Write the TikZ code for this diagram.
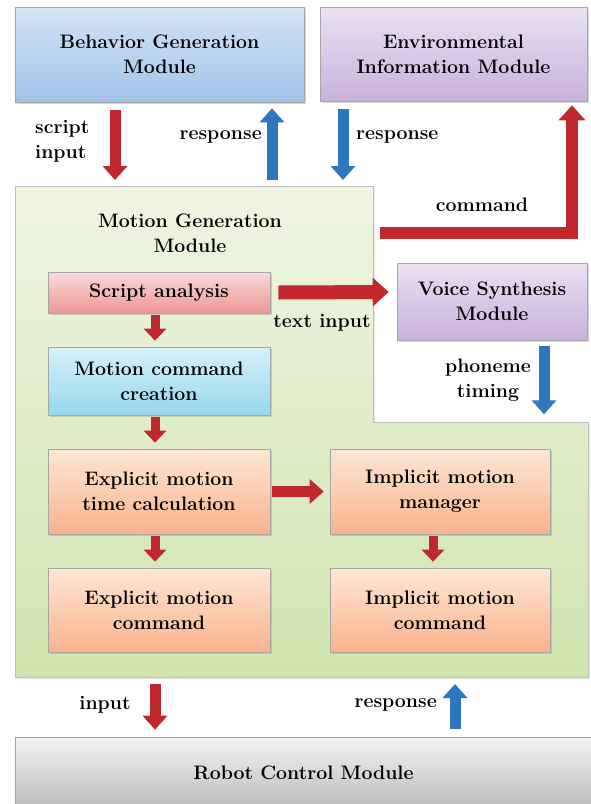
\documentclass[tikz,border=0pt]{standalone}
\usetikzlibrary{arrows.meta,shadows,calc}

\definecolor{arrowred}{HTML}{C0282E}
\definecolor{arrowblue}{HTML}{2F76BE}
\definecolor{behtop}{HTML}{D2E3F5}
\definecolor{behbot}{HTML}{A2C3E9}
\definecolor{vtop}{HTML}{EBE0F1}
\definecolor{vbot}{HTML}{C7B2DB}
\definecolor{gtop}{HTML}{F0F5E2}
\definecolor{gbot}{HTML}{CFE4AE}
\definecolor{rtop}{HTML}{FADADA}
\definecolor{rbot}{HTML}{EE9696}
\definecolor{ctop}{HTML}{D6F1F9}
\definecolor{cbot}{HTML}{96D7EC}
\definecolor{otop}{HTML}{FEE6D6}
\definecolor{obot}{HTML}{F9B38C}
\definecolor{ktop}{HTML}{F4F4F4}
\definecolor{kbot}{HTML}{BABABA}

\begin{document}
\begin{tikzpicture}[x=1pt,y=-1pt,
  box/.style={rectangle, draw=black!35, line width=0.6pt, align=center,
    font=\bfseries\fontsize{19.5}{25}\selectfont, inner sep=2pt,
    drop shadow={opacity=0.3,shadow xshift=1.5pt,shadow yshift=-1.5pt}},
  lbl/.style={font=\bfseries\fontsize{19.5}{25}\selectfont, align=center, inner sep=1pt},
  redarr/.style={draw=arrowred, line width=11pt, -{Triangle[width=24pt,length=14pt]}},
  bluearr/.style={draw=arrowblue, line width=11pt, -{Triangle[width=24pt,length=14pt]}},
  smallred/.style={draw=arrowred, line width=9pt, -{Triangle[width=22pt,length=12pt]}},
]
\useasboundingbox (0,0) rectangle (590,804);
\fill[white] (0,0) rectangle (590,804);

% motion generation module background (L-shaped region)
\path[draw=black!25, line width=0.6pt, top color=gtop, bottom color=gbot,
      drop shadow={opacity=0.3,shadow xshift=1.5pt,shadow yshift=-1.5pt}]
  (15,186) -- (373,186) -- (373,422) -- (588,422) -- (588,677) -- (15,677) -- cycle;
\node[lbl] (mgm) at (190,233) {Motion Generation\\Module};

% external modules
\node[box, minimum width=289pt, minimum height=95pt, top color=behtop, bottom color=behbot]
  (beh) at (159.5,54.5) {Behavior Generation\\Module};
\node[box, minimum width=267pt, minimum height=94pt, top color=vtop, bottom color=vbot]
  (env) at (453.5,54) {Environmental\\Information Module};
\node[box, minimum width=190pt, minimum height=77pt, top color=vtop, bottom color=vbot]
  (voice) at (492,301.5) {Voice Synthesis\\Module};
\node[box, minimum width=577pt, minimum height=72pt, top color=ktop, bottom color=kbot]
  (robot) at (303.5,773) {Robot Control Module};

% inner modules
\node[box, minimum width=222pt, minimum height=41pt, top color=rtop, bottom color=rbot]
  (script) at (159,292.5) {Script analysis};
\node[box, minimum width=222pt, minimum height=68pt, top color=ctop, bottom color=cbot]
  (mcc) at (159,381) {Motion command\\creation};
\node[box, minimum width=222pt, minimum height=85pt, top color=otop, bottom color=obot]
  (emtc) at (159,491.5) {Explicit motion\\time calculation};
\node[box, minimum width=220pt, minimum height=85pt, top color=otop, bottom color=obot]
  (imm) at (440,491.5) {Implicit motion\\manager};
\node[box, minimum width=222pt, minimum height=84pt, top color=otop, bottom color=obot]
  (emc) at (159,610) {Explicit motion\\command};
\node[box, minimum width=220pt, minimum height=84pt, top color=otop, bottom color=obot]
  (imc) at (440,610) {Implicit motion\\command};

% arrow end points on the motion generation module's edge
\coordinate (mgtop1) at (115,180);
\coordinate (mgtop2) at (272,180);
\coordinate (mgtop3) at (343,180);
\coordinate (mgcorner) at (380,233);
\coordinate (mgbot1) at (155,684);
\coordinate (mgbot2) at (455,684);

\draw[redarr] ($(beh.south -| mgtop1)+(0,8)$) -- (mgtop1);
\draw[bluearr] (mgtop2) -- ($(beh.south -| mgtop2)+(0,6)$);
\draw[bluearr] ($(env.south -| mgtop3)+(0,8)$) -- (mgtop3);
\draw[draw=arrowred, line width=12pt, -{Triangle[width=26pt,length=15pt]}]
  (mgcorner) -- (572,233) -- ($(env.south -| 572,0)+(0,4)$);
\draw[draw=arrowred, line width=14pt, -{Triangle[width=28pt,length=16pt]}]
  ($(script.east)+(8,0)$) -- ($(voice.west)+(-8,-9.5)$);
\draw[bluearr] ($(voice.south)+(52,6)$) -- +(0,68);

\draw[smallred] ($(script.south)+(-4,2)$) -- ($(mcc.north)+(-4,-6)$);
\draw[smallred] ($(mcc.south)+(-4,2)$) -- ($(emtc.north)+(-4,-6)$);
\draw[smallred] ($(emtc.south)+(-4,2)$) -- ($(emc.north)+(-4,-6)$);
\draw[smallred] ($(imm.south)+(-7,2)$) -- ($(imc.north)+(-7,-6)$);
\draw[draw=arrowred, line width=11pt, -{Triangle[width=24pt,length=14pt]}]
  ($(emtc.east)+(2,0)$) -- ($(imm.west)+(-6,0)$);

\draw[redarr] (mgbot1) -- ($(robot.north -| mgbot1)+(0,-7)$);
\draw[bluearr] ($(robot.north -| mgbot2)+(0,-8)$) -- (mgbot2);

% labels
\node[lbl, align=left, anchor=west] (lscript) at (34,141) {script\\input};
\node[lbl, anchor=east] (lresp1) at (263,137) {response};
\node[lbl, anchor=west] (lresp2) at (355,137) {response};
\node[lbl] (lcmd) at (482,205) {command};
\node[lbl] (ltext) at (322,323) {text input};
\node[lbl] (lphon) at (488,380) {phoneme\\timing};
\node[lbl] (linput) at (105,705) {input};
\node[lbl, anchor=east] (lresp3) at (438,705) {response};
\end{tikzpicture}
\end{document}
